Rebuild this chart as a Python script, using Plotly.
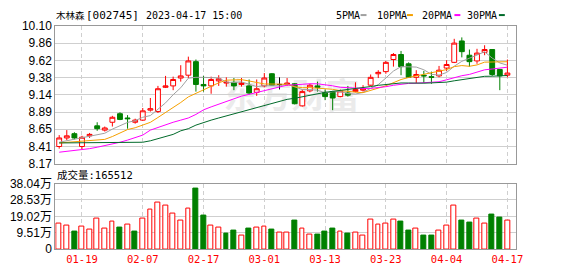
import plotly.graph_objects as go

# ---------------- data ----------------
dates = ["01-16", "01-17", "01-18", "01-19", "01-20", "01-30", "01-31",
         "02-01", "02-02", "02-03", "02-06", "02-07", "02-08", "02-09", "02-10",
         "02-13", "02-14", "02-15", "02-16", "02-17", "02-20", "02-21", "02-22",
         "02-23", "02-24", "02-27", "02-28",
         "03-01", "03-02", "03-03", "03-06", "03-07", "03-08", "03-09", "03-10",
         "03-13", "03-14", "03-15", "03-16", "03-17", "03-20", "03-21", "03-22",
         "03-23", "03-24", "03-27", "03-28", "03-29", "03-30", "03-31",
         "04-03", "04-04", "04-06", "04-07", "04-10", "04-11", "04-12", "04-13",
         "04-14", "04-17"]

opens = [8.41, 8.53, 8.59, 8.41, 8.56, 8.70, 8.64, 8.75, 8.87, 8.81,
         8.75, 8.78, 8.92, 8.90, 9.24, 9.26, 9.37, 9.41, 9.60, 9.28,
         9.26, 9.33, 9.30, 9.31, 9.28, 9.26, 9.17, 9.26, 9.43, 9.28,
         9.28, 9.29, 8.98, 9.19, 9.26, 9.17, 9.18, 9.11, 9.16, 9.18,
         9.20, 9.27, 9.43, 9.46, 9.63, 9.70, 9.57, 9.38, 9.41, 9.39,
         9.40, 9.51, 9.59, 9.89, 9.69, 9.61, 9.73, 9.77, 9.49, 9.41]
highs = [8.57, 8.64, 8.61, 8.56, 8.60, 8.75, 8.69, 8.84, 8.89, 8.85,
         8.80, 8.95, 9.09, 9.26, 9.40, 9.39, 9.55, 9.67, 9.63, 9.40,
         9.39, 9.41, 9.38, 9.37, 9.37, 9.35, 9.35, 9.44, 9.44, 9.38,
         9.37, 9.30, 9.21, 9.29, 9.32, 9.21, 9.19, 9.21, 9.26, 9.31,
         9.27, 9.42, 9.48, 9.61, 9.72, 9.75, 9.59, 9.48, 9.47, 9.46,
         9.54, 9.62, 9.92, 9.94, 9.77, 9.78, 9.83, 9.77, 9.49, 9.63]
lows = [8.38, 8.50, 8.51, 8.37, 8.53, 8.63, 8.62, 8.69, 8.78, 8.66,
        8.73, 8.77, 8.90, 8.88, 9.23, 9.20, 9.32, 9.37, 9.18, 9.18,
        9.15, 9.26, 9.25, 9.20, 9.25, 9.14, 9.12, 9.24, 9.26, 9.21,
        9.26, 9.00, 8.97, 9.17, 9.18, 9.06, 8.92, 9.10, 9.11, 9.17,
        9.18, 9.26, 9.37, 9.43, 9.53, 9.41, 9.37, 9.30, 9.30, 9.29,
        9.38, 9.47, 9.58, 9.66, 9.53, 9.57, 9.69, 9.40, 9.20, 9.38]
closes = [8.53, 8.56, 8.53, 8.54, 8.58, 8.66, 8.67, 8.82, 8.79, 8.80,
          8.78, 8.91, 8.94, 9.22, 9.26, 9.35, 9.40, 9.61, 9.28, 9.26,
          9.35, 9.36, 9.31, 9.26, 9.30, 9.16, 9.22, 9.37, 9.27, 9.28,
          9.30, 9.01, 9.18, 9.27, 9.24, 9.11, 9.09, 9.19, 9.13, 9.21,
          9.22, 9.38, 9.45, 9.59, 9.70, 9.53, 9.38, 9.42, 9.40, 9.38,
          9.48, 9.56, 9.86, 9.74, 9.60, 9.72, 9.77, 9.42, 9.40, 9.44]

# volume in 万 (10k lots)
volumes = [14.7, 13.6, 9.9, 13.0, 11.4, 17.5, 12.0, 15.8, 12.7, 14.2,
           9.9, 17.5, 23.0, 26.8, 25.2, 20.8, 16.4, 23.5, 35.3, 19.3,
           13.6, 12.5, 8.8, 10.5, 8.1, 12.1, 12.5, 13.0, 11.6, 9.8,
           9.8, 16.5, 12.0, 8.6, 8.6, 10.3, 12.1, 10.3, 9.2, 9.8,
           8.1, 16.9, 14.2, 14.7, 16.9, 15.8, 10.8, 12.0, 8.1, 8.1,
           10.8, 13.6, 25.2, 16.5, 15.4, 18.0, 14.7, 19.8, 18.2, 16.5512]

# moving-average values before enough history is visible
ma5_early = [8.47, 8.49, 8.51, 8.53]
ma10_early = [8.46, 8.47, 8.47, 8.48, 8.49, 8.50, 8.51, 8.55, 8.60]
ma20_early = [8.33, 8.34, 8.35, 8.36, 8.38, 8.40, 8.42, 8.44, 8.47, 8.50,
              8.53, 8.57, 8.64, 8.68, 8.72, 8.75, 8.78, 8.81, 8.86]
ma30_early = [8.46, 8.46, 8.46, 8.46, 8.46, 8.46, 8.46, 8.46, 8.46, 8.46,
              8.46, 8.47, 8.49, 8.52, 8.55, 8.58, 8.63, 8.66, 8.71, 8.75,
              8.78, 8.81, 8.84, 8.87, 8.90, 8.93, 8.96, 8.99, 9.02]

price_tick_labels = ["8.17", "8.41", "8.65", "8.89", "9.14", "9.38", "9.62", "9.86", "10.10"]
vol_tick_labels = ["0", "9.51万", "19.02万", "28.53万", "38.04万"]
date_ticks = ["01-19", "02-07", "02-17", "03-01", "03-13", "03-23", "04-04", "04-17"]

stock_name = "木林森"
stock_code = "[002745]"
stamp = "2023-04-17 15:00"
vol_title = "成交量:165512"
ma_names = ["5PMA", "10PMA", "20PMA", "30PMA"]
ma_colors = ["#a0a0a0", "#f5a000", "#ff00ff", "#006a2a"]

# ---------------- derived ----------------
n = len(closes)
xs = list(range(n))


def moving_avg(period, early):
    out = list(early)
    for i in range(len(early), n):
        out.append(sum(closes[i - period + 1:i + 1]) / period)
    return out


mas = [moving_avg(5, ma5_early), moving_avg(10, ma10_early),
       moving_avg(20, ma20_early), moving_avg(30, ma30_early)]

RED = "#ff0000"
GREEN = "#008000"
W, H = 578, 276


def px(x):
    return x / W


def py(y):
    return 1 - y / H


normal = [i for i in xs if opens[i] != closes[i]]
doji = [i for i in xs if opens[i] == closes[i]]

vol_up = [i == 0 or closes[i] >= closes[i - 1] for i in xs]
vol_fill = ["#ffffff" if u else GREEN for u in vol_up]
vol_line = [RED if u else GREEN for u in vol_up]

fig = go.Figure()

for k in range(4):
    fig.add_trace(go.Scatter(x=xs, y=mas[k], mode="lines",
                             line=dict(color=ma_colors[k], width=1),
                             xaxis="x", yaxis="y", hoverinfo="skip",
                             showlegend=False))

fig.add_trace(go.Candlestick(
    x=[xs[i] for i in normal], open=[opens[i] for i in normal],
    high=[highs[i] for i in normal], low=[lows[i] for i in normal],
    close=[closes[i] for i in normal],
    increasing=dict(line=dict(color=RED, width=1), fillcolor="#ffffff"),
    decreasing=dict(line=dict(color=GREEN, width=1), fillcolor=GREEN),
    whiskerwidth=0, xaxis="x", yaxis="y", showlegend=False, hoverinfo="skip"))
if doji:
    fig.add_trace(go.Candlestick(
        x=[xs[i] for i in doji], open=[opens[i] for i in doji],
        high=[highs[i] for i in doji], low=[lows[i] for i in doji],
        close=[closes[i] for i in doji],
        increasing=dict(line=dict(color="#000000", width=1), fillcolor="#000000"),
        decreasing=dict(line=dict(color="#000000", width=1), fillcolor="#000000"),
        whiskerwidth=0, xaxis="x", yaxis="y", showlegend=False, hoverinfo="skip"))

fig.add_trace(go.Bar(x=xs, y=volumes, width=0.64,
                     marker=dict(color=vol_fill, line=dict(color=vol_line, width=1)),
                     xaxis="x2", yaxis="y2", showlegend=False, hoverinfo="skip"))

tickvals_x = [dates.index(d) for d in date_ticks]
p_lo, p_hi = float(price_tick_labels[0]), float(price_tick_labels[-1])
p_step = (p_hi - p_lo) / (len(price_tick_labels) - 1)
price_tickvals = [p_lo + k * p_step for k in range(len(price_tick_labels))]
v_hi = float(vol_tick_labels[-1].replace("万", ""))
v_step = v_hi / (len(vol_tick_labels) - 1)
vol_tickvals = [k * v_step for k in range(len(vol_tick_labels))]

x_dom = [px(56), px(522)]
x_range = [-0.51, 60.09]
GRID = "#cfcfcf"
BORDER = "#999999"
tickfont_y = dict(family="Liberation Sans, Arial, Noto Sans CJK SC", size=12, color="#000000")

common_x = dict(domain=x_dom, range=x_range, tickvals=tickvals_x, showgrid=True,
                gridcolor=GRID, griddash="4px,3px", gridwidth=1, zeroline=False,
                showline=True, mirror=True, linecolor=BORDER, linewidth=1,
                ticks="", fixedrange=True)

fig.update_layout(
    width=W, height=H, margin=dict(l=0, r=0, t=0, b=0),
    paper_bgcolor="#ffffff", plot_bgcolor="#ffffff",
    showlegend=False, boxgap=0.0, boxgroupgap=0.36, bargap=0,
    xaxis=dict(anchor="y", showticklabels=False, rangeslider=dict(visible=False), **common_x),
    xaxis2=dict(anchor="y2", matches="x", ticktext=date_ticks, showticklabels=True,
                tickfont=dict(family="DejaVu Sans Mono, monospace", size=10.5, color=RED),
                **common_x),
    yaxis=dict(domain=[py(165), py(20)], range=[p_lo, p_hi], tickvals=price_tickvals,
               ticktext=price_tick_labels, showgrid=True, gridcolor=GRID, gridwidth=1,
               zeroline=False, showline=True, mirror=True, linecolor=BORDER, linewidth=1,
               ticks="", tickfont=tickfont_y, fixedrange=True, anchor="x"),
    yaxis2=dict(domain=[py(255), py(186)], range=[0, v_hi], tickvals=vol_tickvals,
                ticktext=vol_tick_labels, showgrid=True, gridcolor=GRID, gridwidth=1,
                zeroline=False, showline=True, mirror=True, linecolor=BORDER, linewidth=1,
                ticks="", tickfont=tickfont_y, fixedrange=True, anchor="x2"),
)

MONO = "DejaVu Sans Mono, Noto Sans CJK SC, monospace"


def label(text, x, y, size):
    return dict(text=text, x=px(x), y=py(y), xref="paper", yref="paper",
                xanchor="left", yanchor="middle", showarrow=False,
                font=dict(family=MONO, size=size, color="#000000"))


annotations = [
    label(stock_name, 55, 9, 9.5),
    label(stock_code, 85, 9, 11),
    label(stamp, 146, 9, 10),
    label(vol_title, 56, 177, 10.5),
]
legend_x = [338, 380, 425, 471]
dash_x = [365, 412, 460, 505]
shapes = [dict(type="rect", xref="paper", yref="paper", x0=px(205), x1=px(385),
               y0=py(114), y1=py(78), line=dict(width=0), fillcolor="rgba(0,0,0,0)",
               layer="below",
               label=dict(text="东方财富", font=dict(family="Noto Sans CJK SC", size=34,
                                                  color="#ebebeb", weight="bold"),
                          textposition="middle center"))]
for k in range(4):
    annotations.append(label(ma_names[k], legend_x[k], 9, 10))
    shapes.append(dict(type="line", xref="paper", yref="paper", x0=px(dash_x[k]),
                       x1=px(dash_x[k] + 6), y0=py(8.5), y1=py(8.5),
                       line=dict(color=ma_colors[k], width=2)))
fig.update_layout(annotations=annotations, shapes=shapes)

fig.write_html("out.html")
